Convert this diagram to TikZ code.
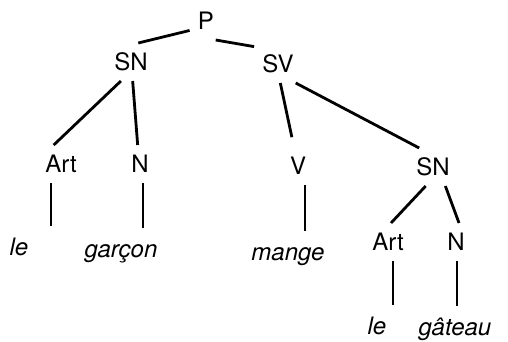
\documentclass[tikz,border=0pt]{standalone}
\usepackage{fontspec}
\setmainfont{TeX Gyre Heros}
\usepackage{tikz}

\begin{document}
\begin{tikzpicture}[x=0.5pt, y=-0.5pt,
    cat/.style={rectangle, inner xsep=4pt, inner ysep=5pt, text height=8.6pt, text depth=0pt, font=\fontsize{12}{14}\selectfont},
    word/.style={cat, inner ysep=6pt, font=\fontsize{12}{14}\selectfont\itshape},
    branch/.style={line width=1.4pt}]
    \useasboundingbox (0,0) rectangle (508,342);

    % categories
    \node[cat] (P) at (206,21) {P};
    \node[cat] (SN1) at (131,62) {SN};
    \node[cat] (SV) at (278,64) {SV};
    \node[cat] (Art1) at (61,164) {Art};
    \node[cat] (N1) at (140,164) {N};
    \node[cat] (V) at (298,166) {V};
    \node[cat] (SN2) at (433,167) {SN};
    \node[cat] (Art2) at (388,242) {Art};
    \node[cat] (N2) at (456,242) {N};

    % words
    \node[word] (le1) at (19,247) {le};
    \node[word] (garcon) at (121,249) {garçon};
    \node[word] (mange) at (288,252) {mange};
    \node[word] (le2) at (377,326) {le};
    \node[word] (gateau) at (455,327) {gâteau};

    % branches
    \draw[branch] (P.210) -- (SN1.69);
    \draw[branch] (P.297) -- (SV.144);
    \draw[branch] (SN1.242) -- (Art1.111);
    \draw[branch] (SN1.275) -- (N1.97);
    \draw[branch, shorten >=5pt] (SV.277) -- (V.102);
    \draw[branch] (SV.313) -- (SN2.126);
    \draw[branch] (SN2.249) -- (Art2.81);
    \draw[branch] (SN2.303) -- (N2.81);

    % lexical branches
    \draw[branch] ([xshift=-5pt]Art1.south) -- ([xshift=-5pt]Art1.south |- le1.north);
    \draw[branch] ([xshift=1.5pt]N1.south) -- ([xshift=1.5pt]N1.south |- garcon.north);
    \draw[branch] ([xshift=3.5pt]V.south) -- ([xshift=3.5pt]V.south |- mange.north);
    \draw[branch] ([xshift=2.5pt]Art2.south) -- ([xshift=2.5pt]Art2.south |- le2.north);
    \draw[branch] ([xshift=0.5pt]N2.south) -- ([xshift=0.5pt]N2.south |- gateau.north);

\end{tikzpicture}
\end{document}
